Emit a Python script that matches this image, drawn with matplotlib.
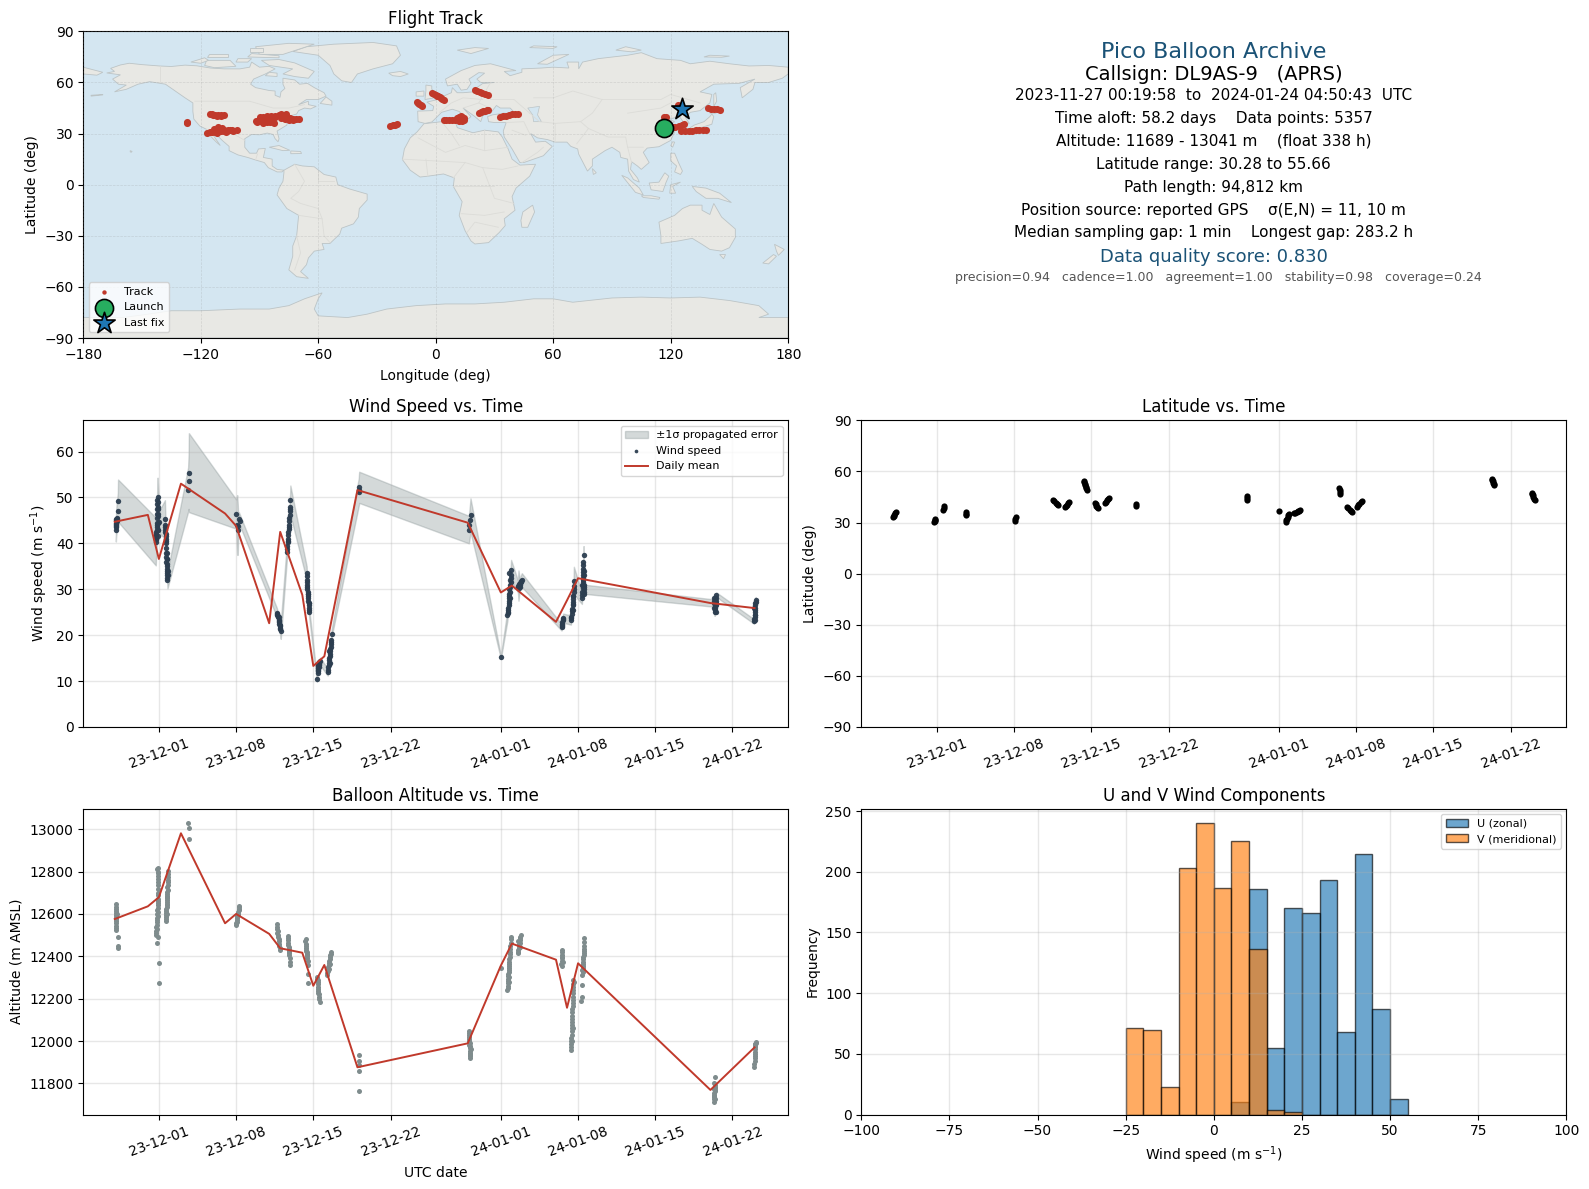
import datetime as dt
import matplotlib
matplotlib.use("Agg")
import matplotlib.pyplot as plt
import matplotlib.dates as mdates
from matplotlib.patches import Polygon

# ---------- time base ----------
BASE = mdates.date2num(dt.datetime(2023, 12, 1))

# ---------- daily means (days since 2023-12-01) ----------
daily_day = [-4, -1, 0, 2, 6, 7, 10, 11, 13, 14, 15, 18, 28, 31, 32, 36, 37, 38, 50, 54]
daily_wind = [44.7, 46.2, 36.6, 53.0, 46.5, 43.8, 22.6, 42.5, 28.8, 13.3, 15.4, 51.6, 44.5, 29.3, 30.8, 22.9, 27.6, 32.4, 27.0, 25.9]
daily_alt = [12576, 12636, 12679, 12981, 12556, 12600, 12506, 12438, 12417, 12261, 12359, 11876, 11989, 12356, 12460, 12384, 12157, 12367, 11769, 11970]

# ---------- wind samples ----------
wind_day = [-3.90, -3.89, -3.88, -3.87, -3.85, -3.83, -3.72, -3.70,
            -0.28, -0.26, -0.25, -0.22, -0.20, -0.18, -0.17, -0.16, -0.15, -0.14, -0.13, -0.12, 0.05,
            0.55, 0.57, 0.59, 0.61, 0.63, 0.65, 0.66, 0.67, 0.68, 0.69, 0.72, 0.74, 0.76, 0.78,
            2.65, 2.70, 2.72,
            7.0, 7.1, 7.15, 7.2, 7.25, 7.37,
            10.70, 10.75, 10.80, 10.85, 10.90, 10.95, 11.0, 11.05,
            11.60, 11.65, 11.70, 11.75, 11.80, 11.83, 11.86, 11.90, 11.92,
            13.40, 13.42, 13.45, 13.47, 13.50, 13.55, 13.58, 13.60, 13.62,
            14.32, 14.38, 14.42, 14.47, 14.52, 14.60,
            15.30, 15.35, 15.40, 15.45, 15.50, 15.55, 15.60, 15.62, 15.65,
            18.12, 18.14, 18.16,
            28.10, 28.15, 28.20, 28.25,
            31.0,
            31.60, 31.62, 31.65, 31.70, 31.72, 31.75, 31.78, 31.82, 31.86, 31.90, 31.93,
            32.55, 32.60, 32.70, 32.80, 32.90,
            36.50, 36.55, 36.60, 36.65,
            37.35, 37.40, 37.45, 37.50, 37.55, 37.58, 37.60, 37.62,
            38.35, 38.38, 38.40, 38.42, 38.44, 38.46, 38.48, 38.50, 38.53, 38.55, 38.57,
            50.30, 50.35, 50.38, 50.42, 50.46, 50.50, 50.55,
            53.95, 54.00, 54.02, 54.05, 54.08, 54.10]
wind_val = [43.0, 43.5, 44.0, 44.5, 45.0, 45.5, 47.0, 49.3,
            40.4, 41.0, 41.5, 42.5, 43.5, 44.5, 45.5, 46.5, 47.5, 48.5, 49.5, 50.0, 44.7,
            45.2, 44.0, 43.0, 42.0, 41.0, 40.0, 39.0, 38.0, 37.0, 36.0, 35.0, 34.0, 33.0, 32.0,
            51.7, 53.5, 55.4,
            46.4, 44.0, 43.0, 43.8, 45.3, 44.9,
            24.9, 24.4, 24.0, 23.4, 22.8, 22.2, 21.6, 21.0,
            38.2, 39.5, 41.0, 42.5, 44.0, 45.5, 47.0, 48.0, 49.4,
            33.5, 32.0, 31.0, 30.0, 29.0, 28.0, 27.0, 26.0, 25.0,
            10.4, 12.1, 12.8, 13.3, 13.8, 14.3,
            12.0, 13.0, 14.0, 15.0, 16.0, 17.0, 18.0, 19.0, 20.3,
            51.2, 51.7, 52.2,
            43.0, 44.0, 45.0, 46.1,
            15.2,
            24.4, 25.0, 26.0, 27.0, 28.0, 29.0, 30.0, 31.0, 32.0, 33.0, 34.2,
            30.6, 30.8, 31.0, 31.5, 32.0,
            21.7, 22.5, 23.2, 23.7,
            23.3, 24.0, 25.2, 26.5, 27.3, 28.5, 30.0, 31.9,
            28.0, 29.5, 31.0, 32.0, 33.0, 34.5, 36.0, 37.5, 33.0, 31.0, 30.0,
            27.0, 26.0, 25.0, 26.0, 27.0, 28.0, 28.8,
            23.0, 24.0, 25.0, 26.0, 27.0, 27.7]
wind_err = [2.6, 2.6, 2.7, 2.8, 3.0, 3.0, 4.0, 4.6,
            5.2, 4.5, 4.5, 4.4, 4.3, 4.3, 4.3, 4.3, 4.3, 4.3, 4.3, 4.3, 2.5,
            4.2, 3.5, 3.0, 2.8, 2.5, 2.5, 2.3, 2.2, 2.0, 2.0, 1.9, 1.9, 1.8, 1.8,
            4.8, 6.0, 8.6,
            3.2, 6.5, 5.5, 2.0, 1.5, 1.2,
            1.0, 1.0, 1.0, 1.0, 1.2, 1.4, 1.6, 1.8,
            1.8, 1.8, 1.8, 1.9, 2.0, 2.2, 2.4, 2.8, 3.2,
            1.5, 1.2, 1.0, 1.0, 1.0, 1.0, 1.0, 1.0, 1.0,
            0.5, 0.8, 0.8, 0.8, 0.8, 0.8,
            0.8, 0.8, 0.8, 0.8, 0.8, 0.8, 0.8, 0.8, 0.8,
            3.0, 3.3, 3.4,
            3.0, 3.2, 3.4, 3.7,
            0.3,
            1.2, 1.2, 1.3, 1.4, 1.5, 1.6, 1.7, 1.8, 2.0, 2.1, 2.2,
            1.3, 3.3, 1.4, 1.4, 1.5,
            0.7, 0.8, 0.9, 1.0,
            1.0, 1.0, 1.2, 1.4, 1.6, 2.0, 2.5, 3.0,
            1.2, 1.3, 1.4, 1.5, 1.6, 1.7, 1.8, 1.9, 1.4, 1.2, 1.0,
            0.8, 0.8, 0.8, 0.7, 0.6, 0.5, 0.5,
            0.5, 0.5, 0.5, 0.5, 0.6, 0.6]
# further wind samples, no band of their own
wind_more_day = [-3.92, -3.86, -3.84, -3.82, -3.92,
                 -0.27, -0.23, -0.21, -0.19, -0.10, -0.09, -0.08, -0.07, -0.06, -0.05, -0.10, -0.08, -0.06,
                 0.58, 0.60, 0.62, 0.64, 0.70, 0.71, 0.73, 0.75, 0.77, 0.80, 0.82, 0.74, 0.70,
                 10.72, 10.78, 10.88, 10.98, 11.02, 10.85, 10.92,
                 11.62, 11.67, 11.72, 11.77, 11.82, 11.85, 11.88, 11.74, 11.82,
                 13.41, 13.44, 13.46, 13.49, 13.52, 13.56, 13.59, 13.61, 13.54, 13.64,
                 14.40, 14.44, 14.50, 14.54, 14.56, 14.44, 14.48,
                 15.33, 15.38, 15.43, 15.48, 15.53, 15.58, 15.61, 15.40, 15.50,
                 31.63, 31.67, 31.71, 31.74, 31.77, 31.80, 31.84, 31.88, 31.92, 31.78, 31.85,
                 32.65, 32.75, 32.85, 32.72, 32.62,
                 36.52, 36.57, 36.62, 36.58,
                 37.38, 37.42, 37.48, 37.52, 37.56, 37.60, 37.62, 37.50, 37.58,
                 38.37, 38.41, 38.43, 38.45, 38.47, 38.49, 38.52, 38.56, 38.58, 38.44, 38.50,
                 50.32, 50.36, 50.40, 50.44, 50.48, 50.52, 50.38, 50.46,
                 53.97, 54.01, 54.03, 54.06, 54.09, 54.07, 54.04, 53.99]
wind_more_val = [43.8, 44.2, 44.8, 45.2, 45.2,
                 41.0, 42.0, 43.0, 44.0, 41.5, 43.0, 44.5, 46.0, 47.5, 49.0, 46.5, 48.0, 43.0,
                 43.5, 42.5, 41.5, 40.5, 36.5, 35.5, 34.5, 33.5, 32.5, 33.0, 34.0, 36.5, 38.0,
                 24.6, 24.2, 23.1, 21.9, 21.3, 24.0, 22.5,
                 38.8, 40.2, 41.8, 43.2, 44.8, 46.2, 47.5, 40.5, 43.5,
                 32.8, 31.5, 30.5, 29.5, 28.5, 27.5, 26.5, 25.5, 29.0, 27.0,
                 11.8, 12.4, 13.1, 13.5, 14.0, 13.6, 14.2,
                 12.5, 13.5, 14.5, 15.5, 16.5, 17.5, 18.5, 16.5, 14.0,
                 24.8, 25.5, 26.5, 27.5, 28.5, 29.5, 30.5, 31.5, 32.5, 33.5, 28.0,
                 30.2, 31.3, 31.7, 30.4, 31.2,
                 22.1, 22.8, 23.5, 22.3,
                 23.7, 24.6, 25.8, 26.8, 27.9, 29.3, 30.8, 28.5, 25.5,
                 28.7, 30.2, 31.5, 32.5, 33.7, 35.2, 34.0, 30.5, 29.0, 31.0, 29.5,
                 28.0, 27.5, 26.5, 25.5, 26.5, 27.5, 28.2, 25.0,
                 23.5, 24.5, 25.5, 26.5, 27.3, 23.2, 24.5, 26.0]

# ---------- altitude samples ----------
alt_day = [-3.87, -3.87, -3.87, -3.87, -3.87, -3.87, -3.87, -3.72, -3.72, -3.72,
           -0.24, -0.23, -0.22, -0.21, -0.20, -0.18, -0.15, -0.12, -0.10, -0.10, -0.10, -0.09, -0.08, -0.08, -0.08, -0.02, -0.02,
           0.62, 0.64, 0.66, 0.68, 0.70, 0.72, 0.74, 0.76, 0.78, 0.80, 0.82, 0.84,
           2.65, 2.70, 2.70,
           7.0, 7.05, 7.10, 7.15, 7.20, 7.25, 7.30,
           10.70, 10.72, 10.75, 10.80, 10.85, 10.90, 10.95,
           11.70, 11.72, 11.75, 11.78, 11.82, 11.85, 11.88,
           13.30, 13.32, 13.35, 13.40, 13.45, 13.50, 13.50, 13.50,
           14.33, 14.38, 14.43, 14.47, 14.52, 14.57,
           15.25, 15.30, 15.35, 15.40, 15.50, 15.55, 15.60,
           18.12, 18.12, 18.12, 18.12, 18.12,
           28.10, 28.12, 28.14, 28.16, 28.18, 28.20, 28.22, 28.24,
           31.0,
           31.60, 31.62, 31.65, 31.68, 31.70, 31.72, 31.75, 31.78, 31.82, 31.85, 31.88, 31.93,
           32.55, 32.60, 32.65, 32.70, 32.75, 32.80,
           36.50, 36.52, 36.55, 36.58,
           37.35, 37.38, 37.40, 37.42, 37.44, 37.46, 37.48, 37.50, 37.52, 37.54, 37.56, 37.58,
           38.30, 38.32, 38.35, 38.38, 38.40, 38.42, 38.45, 38.48, 38.50, 38.52, 38.55, 38.55,
           50.30, 50.30, 50.32, 50.34, 50.36, 50.38, 50.40, 50.42,
           53.98, 54.00, 54.02, 54.04, 54.06, 54.08, 54.10,
           # further samples
           -3.90, -3.88, -3.86, -3.85, -3.88, -3.86, -3.84,
           -0.22, -0.20, -0.17, -0.14, -0.12, -0.11, -0.10, -0.08, -0.07, -0.05, -0.06, -0.04, -0.12, -0.15, -0.10, -0.18,
           0.65, 0.67, 0.69, 0.71, 0.73, 0.75, 0.77, 0.79, 0.81, 0.83, 0.86, 0.70, 0.74, 0.78,
           7.02, 7.08, 7.12, 7.18, 7.22, 7.28,
           10.73, 10.78, 10.83, 10.88, 10.92, 10.97,
           11.68, 11.74, 11.76, 11.80, 11.84, 11.88, 11.76,
           13.28, 13.33, 13.38, 13.42, 13.47, 13.52, 13.34, 13.44,
           14.35, 14.40, 14.45, 14.50, 14.55, 14.45, 14.40,
           15.27, 15.32, 15.38, 15.45, 15.52, 15.58, 15.45, 15.52,
           28.08, 28.11, 28.13, 28.15, 28.17, 28.19, 28.21, 28.23, 28.25,
           31.61, 31.63, 31.66, 31.69, 31.71, 31.74, 31.76, 31.80, 31.83, 31.86, 31.90, 31.78, 31.72,
           32.58, 32.62, 32.66, 32.72, 32.78, 32.60, 32.74,
           36.48, 36.50, 36.54, 36.56, 36.60,
           37.36, 37.39, 37.41, 37.43, 37.45, 37.47, 37.49, 37.51, 37.53, 37.55, 37.57, 37.60, 37.45, 37.50,
           38.46, 38.44, 38.49, 38.51, 38.47, 38.53, 38.54,
           50.32, 50.35, 50.37, 50.39, 50.41, 50.44, 50.36,
           53.97, 54.01, 54.03, 54.05, 54.07, 54.09, 54.03]
alt_val = [12646, 12625, 12605, 12585, 12565, 12545, 12524, 12490, 12450, 12441,
           12501, 12520, 12540, 12560, 12580, 12600, 12620, 12640, 12660, 12690, 12720, 12750, 12780, 12800, 12819, 12367, 12272,
           12567, 12585, 12605, 12625, 12645, 12665, 12685, 12705, 12725, 12750, 12775, 12803,
           13031, 13005, 12954,
           12548, 12562, 12580, 12595, 12610, 12625, 12639,
           12551, 12530, 12510, 12490, 12470, 12450, 12430,
           12494, 12475, 12455, 12435, 12415, 12390, 12359,
           12480, 12460, 12440, 12420, 12400, 12380, 12317, 12272,
           12304, 12280, 12255, 12235, 12210, 12186,
           12312, 12330, 12350, 12370, 12385, 12405, 12422,
           11765, 11858, 11887, 11907, 11935,
           12047, 12030, 12010, 11990, 11975, 11955, 11935, 11921,
           12343,
           12241, 12262, 12285, 12305, 12325, 12345, 12365, 12385, 12410, 12435, 12465, 12493,
           12414, 12430, 12450, 12465, 12485, 12501,
           12356, 12380, 12405, 12430,
           11957, 11985, 12015, 12045, 12075, 12105, 12135, 12165, 12195, 12225, 12255, 12288,
           12189, 12209, 12265, 12312, 12335, 12355, 12375, 12395, 12415, 12435, 12469, 12488,
           11713, 11735, 11755, 11775, 11800, 11790, 11770, 11831,
           11879, 11905, 11930, 11950, 11970, 11985, 11997,
           # further samples
           12635, 12615, 12595, 12575, 12555, 12535, 12600,
           12510, 12530, 12550, 12570, 12590, 12610, 12630, 12650, 12670, 12700, 12735, 12765, 12490, 12465, 12795, 12810,
           12575, 12595, 12615, 12635, 12655, 12675, 12695, 12715, 12738, 12762, 12790, 12600, 12640, 12680,
           12555, 12570, 12588, 12602, 12618, 12632,
           12540, 12520, 12500, 12480, 12460, 12440,
           12485, 12465, 12445, 12425, 12405, 12375, 12420,
           12470, 12450, 12430, 12410, 12390, 12360, 12425, 12405,
           12292, 12268, 12245, 12222, 12198, 12290, 12225,
           12320, 12340, 12360, 12378, 12395, 12412, 12340, 12365,
           12040, 12020, 12000, 11982, 11965, 11945, 11928, 11940, 11960,
           12250, 12273, 12295, 12315, 12335, 12355, 12375, 12398, 12422, 12450, 12480, 12300, 12280,
           12420, 12440, 12458, 12475, 12492, 12470, 12445,
           12365, 12390, 12418, 12395, 12375,
           11970, 12000, 12030, 12060, 12090, 12120, 12150, 12180, 12210, 12240, 12270, 12280, 12000, 12060,
           12345, 12365, 12385, 12405, 12325, 12425, 12450,
           11724, 11745, 11765, 11782, 11780, 11725, 11740,
           11892, 11918, 11940, 11960, 11978, 11992, 11988]

# ---------- latitude samples ----------
lat_day = [-3.97, -3.92, -3.87, -3.80, -3.70,
           -0.25, -0.22, -0.20, -0.18,
           0.58, 0.62, 0.66,
           2.60, 2.63, 2.66,
           7.05, 7.10, 7.15,
           10.55, 10.65, 10.75, 10.85, 10.95,
           11.60, 11.70, 11.80, 11.90, 12.00,
           13.30, 13.35, 13.40, 13.45, 13.50, 13.55, 13.60,
           14.30, 14.38, 14.46, 14.54, 14.62,
           15.20, 15.30, 15.40, 15.50, 15.60,
           18.05, 18.07,
           28.08, 28.10, 28.12,
           31.0,
           31.60, 31.66, 31.72, 31.78, 31.84, 31.90,
           32.40, 32.50, 32.60, 32.70, 32.80, 32.90,
           36.48, 36.50, 36.52, 36.55,
           37.20, 37.30, 37.40, 37.50, 37.60,
           38.10, 38.20, 38.30, 38.40, 38.50,
           50.30, 50.34, 50.38, 50.42, 50.46, 50.50,
           53.90, 53.95, 54.00, 54.05, 54.10, 54.18]
lat_val = [33.0, 33.8, 34.6, 35.5, 36.3,
           30.3, 30.9, 31.5, 32.2,
           37.6, 38.5, 39.6,
           34.2, 35.0, 36.0,
           31.1, 32.2, 33.4,
           43.0, 42.4, 41.7, 41.0, 40.5,
           39.3, 39.8, 40.5, 41.2, 41.8,
           54.3, 53.6, 52.7, 51.8, 50.9, 50.0, 49.3,
           41.4, 40.7, 39.9, 39.0, 38.3,
           41.3, 42.1, 43.0, 43.8, 44.4,
           39.6, 40.6,
           43.2, 44.4, 45.6,
           37.0,
           30.5, 31.3, 32.3, 33.3, 34.3, 35.1,
           35.6, 35.8, 36.3, 36.8, 37.0, 37.3,
           50.0, 49.1, 47.8, 46.9,
           39.0, 38.4, 37.6, 36.8, 36.2,
           39.3, 40.0, 41.0, 42.0, 42.8,
           55.7, 55.1, 54.2, 53.3, 52.4, 51.9,
           47.4, 46.8, 45.9, 45.0, 44.1, 43.4]

# ---------- track samples (lon, lat) ----------
track_lon = [-127, -127,
             -115.4, -114, -112.5, -111, -109.5, -108.2, -113.5, -111.5, -109.5,
             -117, -115.5, -114, -112.5, -111, -109.5, -108, -106.5, -105, -103.5, -101.7, -113, -111, -109, -111.5, -110, -108, -106, -104, -107,
             -92, -90.5, -89, -87.5, -86, -84.5, -82.5, -91, -88, -85, -90, -87, -84, -83,
             -89.6, -88, -86, -84, -82, -80, -78, -76.4, -88, -85, -82, -79,
             -79, -77.5, -76, -74.5, -73, -71.5, -70, -77, -75, -73,
             -23.4, -22, -20.8, -19.8,
             -9.6, -9, -8.3, -7.5, -7,
             -1.7, -0.7, 0.3, 1.3, 2.3, 3.3, 4.3, 0.8, 2.8,
             4.3, 5.5, 7, 8.5, 10, 11.5, 13, 14.7, 11, 12, 13.3, 12.2, 14, 12.8, 11.8, 13.5, 14.2,
             20, 21.2, 22.5, 23.7, 25, 26.7,
             22, 23, 24, 25, 26, 26.7,
             32.8, 34.5, 36, 37.5, 39, 40.5, 42,
             116.4, 117.5,
             121, 122, 124, 126, 127,
             125.5, 127.5, 129.5, 131, 133, 134.5, 136.5, 138,
             139, 140.5, 142, 143.5, 145, 123.6]
track_lat = [36.2, 37.0,
             41.6, 41.3, 41.2, 41.0, 41.0, 41.0, 40.8, 40.6, 40.6,
             30.6, 30.9, 31.0, 31.2, 31.5, 31.5, 31.7, 31.8, 32.0, 31.8, 32.0, 32.8, 33.6, 33.0, 30.3, 32.4, 32.4, 32.4, 32.2, 31.0,
             37.5, 37.6, 37.3, 37.0, 36.8, 36.6, 36.2, 36.6, 36.2, 37.2, 38.0, 37.9, 37.6, 37.0,
             39.8, 40.0, 40.2, 40.4, 40.6, 40.8, 41.0, 41.3, 39.4, 39.6, 40.0, 41.8,
             39.4, 39.2, 39.0, 38.9, 38.8, 38.8, 38.8, 38.4, 38.2, 38.2,
             34.6, 35.0, 35.2, 35.4,
             48.6, 48.0, 47.2, 46.6, 46.0,
             53.6, 53.0, 52.4, 51.8, 51.2, 50.4, 49.6, 52.0, 50.8,
             37.8, 37.9, 37.9, 38.0, 37.9, 38.0, 38.1, 38.2, 39.2, 40.0, 39.6, 38.6, 38.8, 40.4, 37.4, 37.4, 39.4,
             55.4, 54.9, 54.3, 53.8, 53.2, 52.5,
             42.3, 42.7, 43.0, 43.5, 43.9, 44.1,
             39.8, 40.3, 40.6, 41.0, 41.3, 41.5, 41.8,
             39.8, 39.8,
             33.6, 34.0, 34.6, 35.2, 35.5,
             31.8, 31.8, 31.7, 31.8, 31.9, 32.0, 32.1, 32.2,
             44.9, 44.7, 44.4, 44.2, 44.1, 46.6]
launch_lon, launch_lat = [116.4], [33.0]
lastfix_lon, lastfix_lat = [125.6], [44.3]

# ---------- histogram ----------
hist_edges = [-25, -20, -15, -10, -5, 0, 5, 10, 15, 20, 25, 30, 35, 40, 45, 50, 55]
u_counts = [0, 0, 0, 0, 0, 0, 10, 186, 55, 170, 166, 193, 68, 215, 87, 13]
v_counts = [71, 70, 23, 203, 240, 187, 225, 136, 4, 2, 0, 0, 0, 0, 0, 0]

# ---------- land outlines (lon, lat) ----------
north_america = [(-168,65.6),(-164,66.5),(-166,68.3),(-161,70.3),(-156.5,71.3),(-150,70.5),(-141,69.7),(-135,69.4),(-128,70.2),(-122,69.8),(-115,68.5),(-108,68),(-100,68),(-95,69),(-94,72),(-90,69),(-85,69.5),(-82,68),(-87,65),(-93,62),(-94.5,59),(-92,57),(-85,55.3),(-82,55),(-82,52.5),(-79.5,51.3),(-79,54.5),(-77,56.5),(-78,59),(-78,62.5),(-72,61.5),(-69.5,59),(-65.5,59.5),(-62,57),(-57,54),(-56,52),(-60,50),(-66,50),(-70,47),(-65,49),(-65,47),(-61,46),(-64,44.5),(-67,45),(-70,43.5),(-71,41.5),(-74,40.5),(-76,38),(-76,35),(-81,31.5),(-80,27),(-80.5,25.2),(-82,27),(-83,29.5),(-86,30.3),(-90,29.3),(-94,29.5),(-97.5,27),(-97.5,22),(-95,18.5),(-91.5,18.5),(-90.5,21),(-87,21.3),(-88,16),(-83.5,15),(-83.5,11),(-81,9),(-77.5,8.5),(-78.5,7.5),(-81,7.5),(-85.5,10),(-87.5,13),(-92,14.5),(-96,16),(-101,17.5),(-105.5,20),(-105.5,22.5),(-109,26),(-112.5,30),(-114.7,31.7),(-113,28),(-110,23),(-112,25),(-115,28.5),(-117,32.5),(-120.5,34.5),(-123.5,38.5),(-124,43),(-124,48),(-128,51),(-133,55),(-138,59),(-146,60.5),(-152,59),(-158,56),(-164,54.5),(-158,58.5),(-162,59),(-165,62),(-161,64.5)]
greenland = [(-73,78.2),(-66,81),(-52,82.5),(-32,83.5),(-20,81.5),(-18,76),(-22,71),(-32,68),(-40,65),(-43,60),(-48,61),(-52,65),(-54,70),(-60,76)]
baffin = [(-80,73.5),(-72,71.5),(-67,69),(-62,66.5),(-65,62.5),(-72,63.5),(-78,65),(-73,68),(-85,70),(-89,73)]
victoria = [(-117,73),(-105,73),(-102,69.5),(-113,68.7),(-118,70)]
ellesmere = [(-90,76.5),(-78,76.5),(-62,82.5),(-75,83),(-92,81)]
banks = [(-125,72),(-118,74.5),(-116,73),(-120,71.3)]
devon = [(-96,75),(-80,74.5),(-80,75.7),(-94,77)]
melville = [(-117,75),(-106,75),(-106,76.5),(-116,76.5)]
prince_wales = [(-102,72),(-96,72),(-94,74),(-101,74)]
axel = [(-95,78),(-88,78),(-88,80.5),(-95,80.5)]
southampton = [(-87,64),(-81,63.5),(-81,65.5),(-85,66)]
alaska_isles = [(-176,52),(-170,52.7),(-170,53),(-176,52.5)]
chukotka_w = [(-180,69),(-175,67.5),(-170,66),(-173,64.3),(-180,65)]
newfoundland = [(-59,47.7),(-53,46.7),(-53,49),(-56,51.5)]
cuba = [(-85,22),(-80,23),(-74.5,20.2),(-78,20)]
hispaniola = [(-74,19.8),(-69,19.5),(-68.5,18.3),(-74,18.2)]
hawaii = [(-156,20),(-155,19.5),(-155.5,19),(-156,19.3)]
south_america = [(-77.5,8.5),(-72,12),(-68,11),(-62,10.5),(-57,6),(-51,4.5),(-50,0),(-44,-2.5),(-35,-5.5),(-35,-9),(-39,-14),(-39.5,-19),(-42,-23),(-48,-25.5),(-49,-29),(-54,-34.5),(-58,-34.5),(-57,-38),(-62,-39),(-65,-43),(-66,-47),(-69,-51),(-65,-55),(-71,-54),(-75,-50),(-73,-42),(-73,-36),(-71,-30),(-70,-18),(-76,-14),(-81,-6),(-80,-2),(-78,2),(-77.5,7)]
africa = [(-6,35.8),(3,37),(10,37.3),(11,33.5),(19,30.5),(25,32),(32,31),(34,28),(37,21),(39,15),(43,11.5),(51,12),(48,5),(41,-2),(39,-7),(40.5,-15),(35,-20),(35.5,-24),(32.5,-28),(27,-34),(20,-34.8),(18,-33),(15,-27),(12,-18),(13.5,-10),(9,-1),(9.5,4),(4,6.3),(-4,5),(-8,4.5),(-13,8.5),(-17,14.7),(-16,21),(-13,27.5),(-9.5,31),(-6,35.8)]
madagascar = [(49.5,-12),(50.5,-16),(47,-25),(44,-25),(43.5,-21),(44.5,-16)]
eurasia = [(-9.2,43.2),(-1.5,43.5),(-1,46),(-4.5,48.5),(1,50),(4,52),(8,54),(8.5,57),(11,54),(14,54),(19,54.5),(21,57),(24,59.4),(30,60),(23,60),(21,62),(25,65.5),(22,65.8),(17,62),(18,59.5),(16,56),(13,55.5),(11,59),(6,58),(5,62),(13,67),(20,70),(28,71),(41,67),(35,66.5),(38,64),(44,66),(44,68),(54,68.5),(60,69),(68,68.5),(67,72),(73,72),(73,68),(75,72),(83,74),(98,76),(105,77.5),(113,74),(125,73),(130,71),(140,72.5),(150,71),(160,69.7),(170,70),(180,69),(180,65),(177,62.5),(170,60),(163,60),(162,56),(156.5,51),(155.5,57),(163,62),(155,59.5),(142,59),(135,54.5),(141,53),(140,48),(135,43.5),(130,42.5),(127.5,39.5),(129.5,36),(126.5,34.5),(126,37.5),(124.5,40),(121,39),(118,39),(122,37),(119,35),(122,31),(120,26),(114,22.3),(108,21.5),(106,19),(109,13),(105,9),(103,11),(100,13.5),(99.5,9),(103,4),(104,1.5),(101,3),(98.5,8),(98,15),(94.5,16),(94,19),(90,22),(86.5,20),(80,15),(80,11),(77.5,8),(73,18),(72.5,21),(69,22.5),(67,25),(61,25),(57,26.5),(52,27.5),(48.5,30),(51,25),(56,25.5),(59.5,22.5),(55,17),(45,13),(43,13),(39,21),(35,28),(34.5,31.5),(36,36.5),(30,36.5),(27,37),(26.5,40),(29,41),(35,42),(41,41.5),(38,45),(33,45),(31,46.5),(28,42),(24,40.5),(23,37),(20,40),(14,45),(18,40),(16,38),(12,43),(8.5,44.3),(3,42.5),(0,39),(-2,36.8),(-5.5,36),(-9,37),(-9.2,43.2)]
caspian = [(47,45),(53,46),(52,41),(54,37),(50,37),(49.5,41)]
britain = [(-5.5,50),(1.5,51.5),(0,54),(-2,56),(-2,58),(-5,58.5),(-5,55)]
ireland = [(-10,52),(-6,52),(-6,55),(-10,54.5)]
iceland = [(-24,65.5),(-18,66.5),(-14,65),(-18,63.5),(-22,64)]
svalbard = [(11,79),(20,80.5),(27,80),(18,77)]
novaya = [(52,71),(57,70.7),(68,76.5),(60,76)]
franz_josef = [(48,80.5),(60,80),(62,81),(50,81.5)]
severnaya = [(92,79),(100,78),(105,79),(97,81)]
new_siberia = [(137,75),(146,74.8),(150,75.5),(140,76)]
japan = [(130,31.5),(132,33.5),(136,33.7),(141,35.5),(142,40),(141,41.5),(140,40),(137,37),(132,35),(130,33.5)]
hokkaido = [(140,42),(143,42),(145,43.5),(142,45.5)]
sakhalin = [(142,46),(143.5,49),(143,54),(142,53)]
taiwan = [(120,23),(121,22),(122,25),(121,25.2)]
philippines = [(120,18.5),(122,18.5),(124,13),(126,8),(125,6),(122,7.5),(123,11),(120,14)]
borneo = [(109,1),(114,1.5),(117,7),(119,5),(117.5,1),(116,-4),(110,-3)]
sumatra = [(95,5.5),(98,4),(104,-2),(106,-6),(102,-4.5)]
java = [(105,-6.5),(110,-6.5),(114.5,-7.5),(114,-8.5),(106,-7.5)]
sulawesi = [(119.5,-5),(120,0),(125,1.5),(121,-1),(122.5,-5)]
new_guinea = [(131,-1),(138,-2),(145,-5),(151,-10.5),(144,-8),(138,-8),(133,-4)]
australia = [(114,-22),(122,-18),(126,-14),(130,-12),(136,-12),(136,-15),(140,-17.5),(142,-11),(146,-19),(153,-26),(153,-31),(150,-37),(146,-39),(140,-38),(136,-35),(131,-31.5),(124,-33),(115,-34.5),(115,-30)]
tasmania = [(145,-41),(148,-41),(147,-43.5)]
nz_north = [(173,-35),(178,-38),(175,-41.5),(174,-39)]
nz_south = [(172.5,-41),(174,-42),(170,-46.5),(167,-46)]
sri_lanka = [(80,9.5),(82,7),(80.5,6)]
antarctica = [(-180,-78),(-160,-78),(-150,-76.5),(-135,-74),(-120,-74),(-100,-73),(-85,-73),(-75,-71),(-67,-67),(-58,-63.5),(-60,-67),(-62,-73),(-60,-77),(-45,-78),(-35,-76),(-25,-73),(-10,-71),(5,-70),(20,-70),(35,-69),(50,-67),(60,-67),(70,-69),(78,-68),(90,-66.5),(105,-66),(120,-66.5),(135,-66),(150,-68),(165,-71),(170,-76),(165,-78),(180,-78),(180,-90),(-180,-90)]
land_shapes = [north_america, greenland, baffin, victoria, ellesmere, banks, devon, melville, prince_wales, axel, southampton,
               alaska_isles, chukotka_w, newfoundland, cuba, hispaniola, hawaii,
               south_america, africa, madagascar, eurasia, britain, ireland, iceland, svalbard, novaya, franz_josef, severnaya,
               new_siberia, japan, hokkaido, sakhalin, taiwan, philippines, borneo, sumatra, java, sulawesi, new_guinea, australia,
               tasmania, nz_north, nz_south, sri_lanka, antarctica]
water_shapes = [caspian]
border_lines = [[(-123,49),(-95,49),(-83,45),(-75,45),(-67,47)], [(-141,69.7),(-141,60)],
                [(-117,32.5),(-106,31.7),(-97.5,26)], [(-92,14.5),(-91,18)],
                [(-70,-18),(-58,-20),(-57,-30),(-54,-34)], [(-72,12),(-67,2),(-70,-4),(-74,-8),(-69,-11),(-60,-14),(-58,-20)],
                [(-60,8),(-60,2),(-52,2)], [(-71,-30),(-69,-40),(-72,-50)],
                [(-9,27.5),(5,19),(15,23),(25,20),(25,32)], [(25,20),(37,22)], [(-17,15),(15,13),(24,10),(34,9),(42,11)],
                [(9,4),(15,13)], [(24,10),(30,-8),(40,-11)], [(13,-17),(25,-18),(35,-16)], [(16,-28),(20,-22),(32,-25)],
                [(9,-1),(30,-1)], [(3,37),(8,30),(12,23)], [(-4,5),(-5,15)],
                [(28,60),(24,52),(22,48),(28,45)], [(2,42.5),(8,48),(14,51),(24,50)], [(14,45),(22,48)],
                [(28,50),(40,50),(48,42)], [(48,42),(53,37),(61,36),(61,25)], [(61,36),(74,37),(78,33),(72,24)],
                [(50,51),(60,51),(70,55),(85,50),(98,50),(115,50),(120,53),(135,48)], [(85,50),(80,42),(74,37)],
                [(98,42),(115,45),(120,48)], [(78,33),(88,28),(97,28),(98,22),(102,22),(106,22)], [(98,22),(100,13)],
                [(36,36.5),(45,37),(48,30)], [(39,32),(46,29)], [(44,13),(52,19),(55,22)]]

# ---------- text ----------
info_lines = ["2023-11-27 00:19:58  to  2024-01-24 04:50:43  UTC",
              "Time aloft: 58.2 days    Data points: 5357",
              "Altitude: 11689 - 13041 m    (float 338 h)",
              "Latitude range: 30.28 to 55.66",
              "Path length: 94,812 km",
              "Position source: reported GPS    σ(E,N) = 11, 10 m",
              "Median sampling gap: 1 min    Longest gap: 283.2 h"]
score_line = "Data quality score: 0.830"
sub_line = "precision=0.94   cadence=1.00   agreement=1.00   stability=0.98   coverage=0.24"

W, H = 1589, 1189
fig = plt.figure(figsize=(W / 100, H / 100), dpi=100)


def make_ax(x0, x1, y0, y1):
    return fig.add_axes([x0 / W, 1 - y1 / H, (x1 - x0) / W, (y1 - y0) / H])


L0, L1, R0, R1 = 83.2, 788.2, 861.3, 1566.3
ax_map = make_ax(L0, L1, 31.4, 338)
ax_wind = make_ax(L0, L1, 420.3, 727)
ax_lat = make_ax(R0, R1, 420.3, 727)
ax_alt = make_ax(L0, L1, 808.7, 1114.5)
ax_hist = make_ax(R0, R1, 808.7, 1114.5)

GRID = dict(color="#b0b0b0", alpha=0.3, lw=1.0)
RED, SLATE, DARK = "#c0392b", "#7f8c8d", "#2c3e50"
XLIM = (BASE - 6.86, BASE + 57.05)


def date_axis(ax):
    ax.set_xlim(*XLIM)
    ax.xaxis.set_major_locator(mdates.DayLocator(bymonthday=[1, 8, 15, 22]))
    ax.xaxis.set_major_formatter(mdates.DateFormatter("%y-%m-%d"))
    ax.tick_params(axis="x", labelrotation=20)
    ax.grid(True, **GRID)


def t(days):
    return [BASE + d for d in days]


# Map
ax_map.set_facecolor("#d4e6f1")
for shape in land_shapes:
    ax_map.add_patch(Polygon(shape, closed=True, fc="#e8e8e4", ec="#bcc4c6", lw=0.6, zorder=1))
for shape in water_shapes:
    ax_map.add_patch(Polygon(shape, closed=True, fc="#d4e6f1", ec="#bcc4c6", lw=0.5, zorder=1.1))
for line in border_lines:
    xs, ys = zip(*line)
    ax_map.plot(xs, ys, color="#dcdcd8", lw=0.6, zorder=1.2)
ax_map.grid(True, color="#8c8c8c", alpha=0.25, lw=0.5, ls="--", zorder=1.5)
ax_map.set_axisbelow(False)
ax_map.scatter(track_lon, track_lat, s=26, color=RED, lw=0, zorder=3, label="Track")
ax_map.scatter(launch_lon, launch_lat, s=170, color="#27ae60", ec="k", lw=1.2, zorder=4, label="Launch")
ax_map.scatter(lastfix_lon, lastfix_lat, s=260, marker="*", color="#1f77b4", ec="k", lw=1.2, zorder=5, label="Last fix")
ax_map.set_xlim(-180, 180)
ax_map.set_ylim(-90, 90)
ax_map.set_xticks(range(-180, 181, 60))
ax_map.set_yticks(range(-90, 91, 30))
ax_map.set_xlabel("Longitude (deg)", labelpad=5.4)
ax_map.set_ylabel("Latitude (deg)")
ax_map.set_title("Flight Track", fontsize=12, pad=5.3)
map_legend = ax_map.legend(loc="lower left", fontsize=8)
map_legend.legend_handles[0].set_sizes([10])

# Info text
cx = (R0 + R1) / 2 / W


def info(y, s, dx=0.0, **kw):
    fig.text(cx + dx / W, 1 - y / H, s, ha="center", va="center", **kw)


info(51.7, "Pico Balloon Archive", fontsize=16, color="#1a5276")
info(74, "Callsign: DL9AS-9   (APRS)", fontsize=14, color="k")
for y, s in zip([95, 118.5, 141, 164, 187.5, 210, 233], info_lines):
    info(y, s, fontsize=11, color="k")
info(257.5, score_line, fontsize=13, color="#1a5276")
info(278, sub_line, dx=4.5, fontsize=9, color="#555555")

# Wind
band_lo = [v - e for v, e in zip(wind_val, wind_err)]
band_hi = [v + e for v, e in zip(wind_val, wind_err)]
ax_wind.fill_between(t(wind_day), band_lo, band_hi, color=SLATE, alpha=0.33, label="±1σ propagated error")
ax_wind.scatter(t(wind_day), wind_val, s=15, color=DARK, lw=0, alpha=0.95, label="Wind speed", zorder=3)
ax_wind.scatter(t(wind_more_day), wind_more_val, s=15, color=DARK, lw=0, alpha=0.95, zorder=3)
ax_wind.plot(t(daily_day), daily_wind, color=RED, lw=1.4, label="Daily mean", zorder=4)
date_axis(ax_wind)
ax_wind.set_ylim(0, 66.8)
ax_wind.set_ylabel("Wind speed (m s$^{-1}$)")
ax_wind.set_title("Wind Speed vs. Time", fontsize=12)
wind_legend = ax_wind.legend(loc="upper right", fontsize=8)
wind_legend.legend_handles[1].set_sizes([7])

# Latitude
ax_lat.scatter(t(lat_day), lat_val, s=20, color="k", lw=0, zorder=3)
date_axis(ax_lat)
ax_lat.set_ylim(-90, 90)
ax_lat.set_yticks(range(-90, 91, 30))
ax_lat.set_ylabel("Latitude (deg)")
ax_lat.set_title("Latitude vs. Time", fontsize=12)

# Altitude
ax_alt.scatter(t(alt_day), alt_val, s=13, color=SLATE, lw=0, zorder=3)
ax_alt.plot(t(daily_day), daily_alt, color=RED, lw=1.4, zorder=4)
date_axis(ax_alt)
ax_alt.set_ylim(11653, 13097)
ax_alt.set_yticks(range(11800, 13001, 200))
ax_alt.set_xlabel("UTC date", labelpad=5.4)
ax_alt.set_ylabel("Altitude (m AMSL)")
ax_alt.set_title("Balloon Altitude vs. Time", fontsize=12, pad=5.3)

# Histogram
widths = [b - a for a, b in zip(hist_edges[:-1], hist_edges[1:])]
ax_hist.bar(hist_edges[:-1], u_counts, width=widths, align="edge", color="#1f77b4", alpha=0.65, ec="k", lw=1.0, label="U (zonal)")
ax_hist.bar(hist_edges[:-1], v_counts, width=widths, align="edge", color="#ff7f0e", alpha=0.65, ec="k", lw=1.0, label="V (meridional)")
ax_hist.set_xlim(-100, 100)
ax_hist.set_ylim(0, 252)
ax_hist.grid(True, **GRID)
ax_hist.set_xlabel("Wind speed (m s$^{-1}$)", labelpad=4.7)
ax_hist.set_ylabel("Frequency")
ax_hist.set_title("U and V Wind Components", fontsize=12, pad=5.3)
ax_hist.legend(loc="upper right", fontsize=8)

fig.savefig("out.png", dpi=100)
